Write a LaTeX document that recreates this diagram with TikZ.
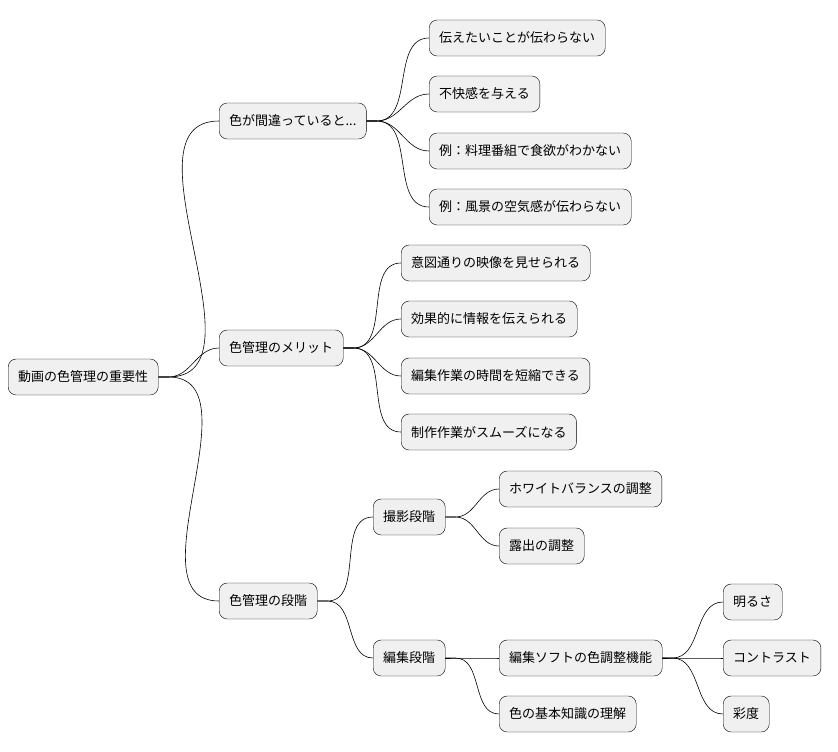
\documentclass[tikz,border=0pt]{standalone}
\usepackage{fontspec}
\setmainfont{Noto Sans CJK JP}
\tikzset{
  topic/.style={draw, rounded corners=8pt, fill=black!6, anchor=west,
    minimum height=36pt, inner xsep=10pt, font=\fontsize{13}{15}\selectfont},
  branch/.style={draw, line width=0.6pt}
}
\begin{document}
\begin{tikzpicture}[x=1pt,y=-1pt]
\useasboundingbox (0,0) rectangle (838,752);
\node[topic] (root) at (8,377) {動画の色管理の重要性};

\node[topic] (wrong) at (219,121) {色が間違っていると...};
\node[topic] (merit) at (219,348) {色管理のメリット};
\node[topic] (stage) at (219,601) {色管理の段階};

\node[topic] (w1) at (429,38) {伝えたいことが伝わらない};
\node[topic] (w2) at (429,94) {不快感を与える};
\node[topic] (w3) at (429,151) {例：料理番組で食欲がわかない};
\node[topic] (w4) at (429,207) {例：風景の空気感が伝わらない};

\node[topic] (m1) at (401,263) {意図通りの映像を見せられる};
\node[topic] (m2) at (401,319) {効果的に情報を伝えられる};
\node[topic] (m3) at (401,376) {編集作業の時間を短縮できる};
\node[topic] (m4) at (401,432) {制作作業がスムーズになる};

\node[topic] (shoot) at (373,517) {撮影段階};
\node[topic] (edit) at (373,658) {編集段階};

\node[topic] (s1) at (499,489) {ホワイトバランスの調整};
\node[topic] (s2) at (499,546) {露出の調整};
\node[topic] (e1) at (499,658) {編集ソフトの色調整機能};
\node[topic] (e2) at (499,714) {色の基本知識の理解};

\node[topic] (g1) at (723,602) {明るさ};
\node[topic] (g2) at (723,658) {コントラスト};
\node[topic] (g3) at (723,714) {彩度};

% connectors
\foreach \p/\c in {root/wrong,root/merit,root/stage,
  wrong/w1,wrong/w2,wrong/w3,wrong/w4,
  merit/m1,merit/m2,merit/m3,merit/m4,
  stage/shoot,stage/edit,shoot/s1,shoot/s2,edit/e1,edit/e2,
  e1/g1,e1/g2,e1/g3}
  \draw[branch] (\p.east) -- ++(10,0) to[out=0,in=180] (\c.west);
\end{tikzpicture}
\end{document}
